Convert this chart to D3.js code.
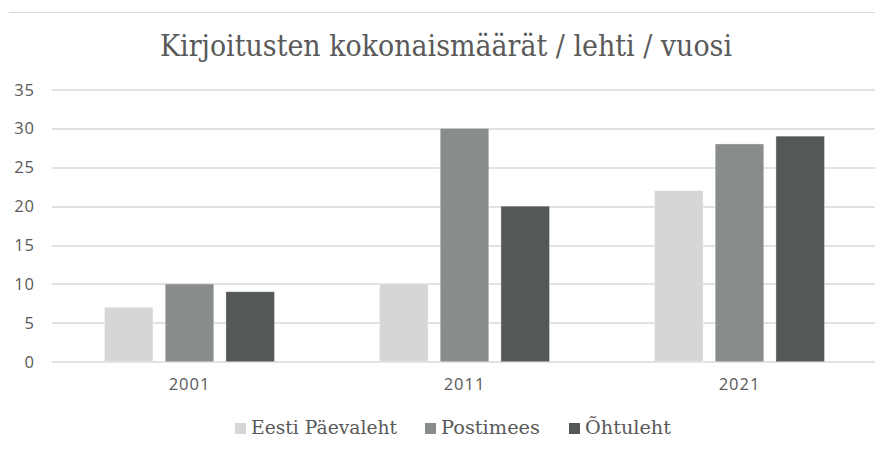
<!DOCTYPE html>
<html>
<head>
<meta charset="utf-8">
<script src="https://cdn.jsdelivr.net/npm/d3@7"></script>
<style>
	body { margin: 0; background: #fff; }
	svg { display: block; }
</style>
</head>
<body>
<div id="chart"></div>
<script>
// Data
const years = ["2001", "2011", "2021"]
const seriesNames = ["Eesti Päevaleht", "Postimees", "Õhtuleht"]
const seriesColors = ["#d5d7d5", "#898c8c", "#545859"]
const eestiPaevaleht = [7, 10, 22]
const postimees = [10, 30, 28]
const ohtuleht = [9, 20, 29]
const yTicks = [0, 5, 10, 15, 20, 25, 30, 35]

const seriesValues = [eestiPaevaleht, postimees, ohtuleht]

const width = 875
const height = 452
const margin = { top: 89.5, right: -2, bottom: 90.3, left: 52 }
const innerW = width - margin.left - margin.right
const innerH = height - margin.top - margin.bottom

const svg = d3.select("#chart")
	.append("svg")
	.attr("width", width)
	.attr("height", height)

// top border line
svg.append("line")
	.attr("x1", 9).attr("x2", width)
	.attr("y1", 12.5).attr("y2", 12.5)
	.attr("stroke", "#d9d9d9")
	.attr("stroke-width", 1.2)

// Title
svg.append("text")
	.attr("x", 446)
	.attr("y", 56)
	.attr("text-anchor", "middle")
	.attr("textLength", 572)
	.attr("lengthAdjust", "spacingAndGlyphs")
	.style("font-family", "'DejaVu Serif', serif")
	.style("font-size", "29px")
	.style("font-weight", 300)
	.style("fill", "#595959")
	.text("Kirjoitusten kokonaismäärät / lehti / vuosi")

const g = svg.append("g")
	.attr("transform", `translate(${margin.left},${margin.top})`)

// Scales
const x0 = d3.scaleBand()
	.domain(years)
	.range([0, innerW])

const x1 = d3.scaleBand()
	.domain(seriesNames)
	.range([52.5, x0.bandwidth() - 52.5])
	.paddingInner(0.2)

const y = d3.scaleLinear().domain([0, 35]).range([innerH, 0])

// Gridlines
g.append("g")
	.selectAll("line")
	.data(yTicks)
	.join("line")
	.attr("x1", 0)
	.attr("x2", innerW)
	.attr("y1", (d) => Math.round(y(d)) + 0.5)
	.attr("y2", (d) => Math.round(y(d)) + 0.5)
	.attr("stroke", "#d9d9d9")
	.attr("stroke-width", 1.3)

// Y axis labels
const yAxis = g.append("g")
	.call(d3.axisLeft(y).tickValues(yTicks).tickSize(0).tickPadding(17))
yAxis.select(".domain").remove()
yAxis.selectAll("text")
	.attr("dy", "5.5px")
	.style("font-family", "'Open Sans', sans-serif")
	.style("font-size", "16.5px")
	.style("letter-spacing", "1px")
	.style("fill", "#595959")

// X axis labels
const xAxis = g.append("g")
	.attr("transform", `translate(0,${innerH})`)
	.call(d3.axisBottom(x0).tickSize(0).tickPadding(0))
xAxis.select(".domain").remove()
xAxis.selectAll("text")
	.attr("y", 0)
	.attr("dy", "28px")
	.style("font-family", "'Open Sans', sans-serif")
	.style("font-size", "16.5px")
	.style("letter-spacing", "1px")
	.style("fill", "#595959")

// Bars
seriesNames.forEach((name, si) => {
	g.append("g")
		.selectAll("rect")
		.data(years.map((yr, i) => ({ year: yr, value: seriesValues[si][i] })))
		.join("rect")
		.attr("x", (d) => x0(d.year) + x1(name))
		.attr("y", (d) => y(d.value))
		.attr("width", x1.bandwidth())
		.attr("height", (d) => innerH - y(d.value))
		.attr("fill", seriesColors[si])
		.attr("stroke", "#ffffff")
		.attr("stroke-opacity", 0.35)
		.attr("stroke-width", 1)
})

// Legend
const legendItems = [
	{ x: 235, w: 146 },
	{ x: 425, w: 99 },
	{ x: 569, w: 86 },
]
const legend = svg.append("g").attr("transform", "translate(0,434)")
seriesNames.forEach((name, i) => {
	const item = legend.append("g").attr("transform", `translate(${legendItems[i].x},0)`)
	item.append("rect")
		.attr("x", 0)
		.attr("y", -11)
		.attr("width", 11)
		.attr("height", 11)
		.attr("fill", seriesColors[i])
	item.append("text")
		.attr("x", 16)
		.attr("y", 0)
		.attr("textLength", legendItems[i].w)
		.attr("lengthAdjust", "spacingAndGlyphs")
		.style("font-family", "'DejaVu Serif', serif")
		.style("font-size", "19px")
		.style("fill", "#595959")
		.text(name)
})
</script>
</body>
</html>
